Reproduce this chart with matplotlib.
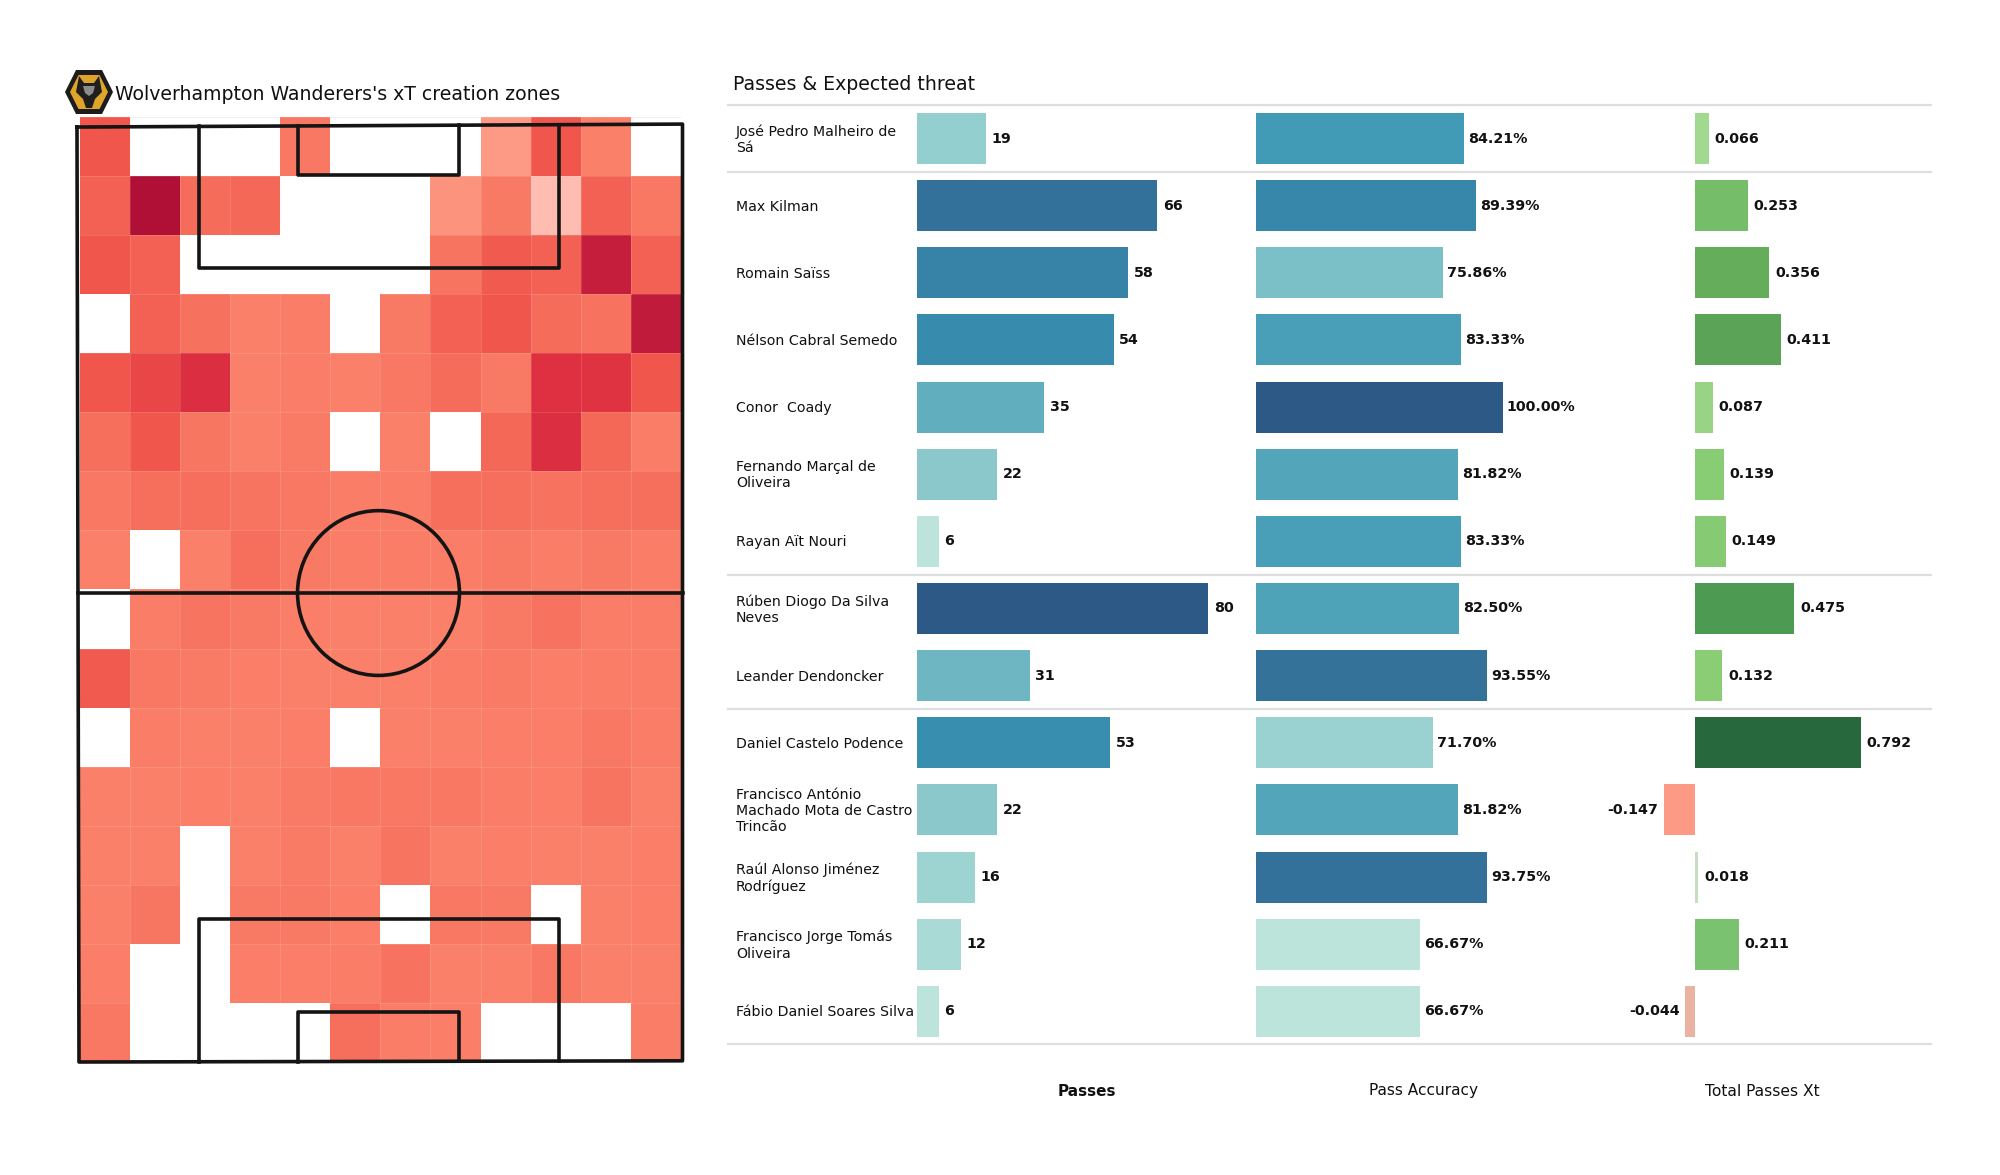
import numpy as np
import matplotlib
matplotlib.use("Agg")
import matplotlib.pyplot as plt
from matplotlib.colors import LinearSegmentedColormap, Normalize, TwoSlopeNorm
from matplotlib.patches import Polygon, Ellipse

# === Data ===
nan = np.nan
HEAT = [
    [50, nan, nan, nan, 33, nan, nan, nan, 17, 50, 28, nan],
    [45, 100, 40, 42, nan, nan, nan, 20, 32, 0, 45, 33],
    [50, 45, nan, nan, nan, nan, nan, 35, 48, 45, 88, 45],
    [nan, 45, 37, 28, 30, nan, 32, 45, 50, 40, 36, 90],
    [50, 58, 72, 28, 30, 28, 33, 40, 32, 70, 68, 50],
    [38, 50, 34, 28, 31, nan, 28, nan, 42, 72, 42, 30],
    [33, 38, 38, 35, 33, 30, 30, 38, 38, 36, 38, 38],
    [28, nan, 28, 38, 32, 30, 30, 30, 32, 30, 32, 30],
    [nan, 30, 35, 32, 29, 28, 28, 28, 32, 36, 30, 30],
    [48, 33, 31, 29, 28, 28, 28, 30, 31, 29, 30, 30],
    [nan, 30, 28, 28, 29, nan, 28, 28, 29, 29, 33, 30],
    [28, 28, 29, 28, 31, 33, 33, 33, 30, 29, 35, 28],
    [28, 28, nan, 28, 31, 28, 35, 28, 29, 28, 28, 29],
    [28, 34, nan, 32, 32, 29, nan, 33, 32, nan, 28, 29],
    [29, nan, nan, 29, 29, 30, 36, 28, 28, 33, 28, 28],
    [33, nan, nan, nan, nan, 38, 30, 29, nan, nan, nan, 30],
]

players = [
    "José Pedro Malheiro de\nSá", "Max Kilman", "Romain Saïss",
    "Nélson Cabral Semedo", "Conor  Coady", "Fernando Marçal de\nOliveira",
    "Rayan Aït Nouri", "Rúben Diogo Da Silva\nNeves", "Leander Dendoncker",
    "Daniel Castelo Podence", "Francisco António\nMachado Mota de Castro\nTrincão",
    "Raúl Alonso Jiménez\nRodríguez", "Francisco Jorge Tomás\nOliveira",
    "Fábio Daniel Soares Silva",
]
passes = [19, 66, 58, 54, 35, 22, 6, 80, 31, 53, 22, 16, 12, 6]
accuracy = [84.21, 89.39, 75.86, 83.33, 100.0, 81.82, 83.33, 82.5, 93.55, 71.7,
            81.82, 93.75, 66.67, 66.67]
xt = [0.066, 0.253, 0.356, 0.411, 0.087, 0.139, 0.149, 0.475, 0.132, 0.792,
      -0.147, 0.018, 0.211, -0.044]
separators = [-0.5, 0.5, 6.5, 8.5, 13.48]

# === Colours ===
heat_cmap = LinearSegmentedColormap.from_list("heat", [
    (0.0, "#ffbcb0"), (0.17, "#fd9a85"), (0.28, "#fa8069"), (0.40, "#f56c5a"),
    (0.50, "#f0564c"), (0.70, "#de3040"), (0.88, "#c41e3c"), (1.0, "#b01036")])
blue_cmap = LinearSegmentedColormap.from_list("blues", [
    (0.0, "#bce4da"), (0.17, "#94cfcf"), (0.39, "#62afbe"), (0.526, "#429bb6"),
    (0.65, "#378cae"), (0.8, "#35739b"), (1.0, "#2c5985")])
green_cmap = LinearSegmentedColormap.from_list("xt", [
    (0.0, "#fd9a85"), (0.43, "#e8b8a8"), (0.5, "#d5e5d0"), (0.511, "#c5dcc0"),
    (0.54, "#a3d992"), (0.583, "#8acd74"), (0.633, "#7bc270"), (0.66, "#75bd69"),
    (0.725, "#65ac5b"), (0.8, "#4d9a52"), (1.0, "#27693d")])

W, H = 2000, 1175
fig = plt.figure(figsize=(20, 11.75), dpi=100, facecolor="white")


def axes_px(x0, y0, x1, y1):
    a = fig.add_axes([x0 / W, 1 - y1 / H, (x1 - x0) / W, (y1 - y0) / H])
    a.axis("off")
    return a


# === Pitch ===
ax_p = axes_px(79.5, 117, 681, 1062)
ax_p.set_xlim(0, 12)
ax_p.set_ylim(16, 0)
ax_p.pcolormesh(np.arange(13), np.arange(17), np.array(HEAT), cmap=heat_cmap, vmin=0, vmax=100)
# faint seams between the cells
masked = np.ma.masked_invalid(np.array(HEAT))
for r in range(16):
    for c in range(12):
        if masked[r, c] is not np.ma.masked:
            ax_p.plot([c, c + 1, c + 1], [r, r, r + 1], color="white", lw=0.5, alpha=0.18)
ax_p.axhline(0, color="#eeeeee", lw=1.2, zorder=0)

LINE = dict(color="#141414", lw=2.6, clip_on=False, zorder=5)
ax_p.plot([-0.05, 12.03, 12.03, -0.01, -0.05], [0.17, 0.12, 15.98, 16.0, 0.17], **LINE)
ax_p.plot([-0.03, 12.03], [8.06, 8.06], **LINE)
ax_p.plot([2.39, 2.39, 9.57, 9.57], [0.16, 2.55, 2.55, 0.13], **LINE)
ax_p.plot([4.35, 4.35, 7.58, 7.58], [0.15, 0.99, 0.99, 0.13], **LINE)
ax_p.plot([2.39, 2.39, 9.57, 9.57], [16, 13.58, 13.58, 15.98], **LINE)
ax_p.plot([4.35, 4.35, 7.58, 7.58], [16, 15.16, 15.16, 15.98], **LINE)
ax_p.add_patch(Ellipse((5.965, 8.06), 3.23, 2.79, fill=False, ec="#141414", lw=2.6, zorder=5))

fig.text(115 / W, 1 - 94 / H, "Wolverhampton Wanderers's xT creation zones",
         fontsize=13.6, color="#111111", ha="left", va="center")
fig.text(733 / W, 1 - 84 / H, "Passes & Expected threat",
         fontsize=13.6, color="#111111", ha="left", va="center")

# === Badge ===
ax_b = axes_px(64, 68, 114, 116)
ax_b.set_xlim(0, 50)
ax_b.set_ylim(48, 0)
ax_b.add_patch(Polygon([[12, 2], [38, 2], [49, 24], [38, 46], [12, 46], [1, 24]], fc="#1c1c1c"))
ax_b.add_patch(Polygon([[14.5, 7], [35.5, 7], [44, 24], [35.5, 41], [14.5, 41], [6, 24]], fc="#dfa42a"))
ax_b.add_patch(Polygon([[15, 8], [20, 15], [30, 15], [35, 8], [38, 24], [31, 31], [28, 40], [22, 40],
                        [19, 31], [12, 24]], fc="#1f1f1f"))
ax_b.add_patch(Polygon([[19, 18], [31, 18], [29, 25], [25, 28], [21, 25]], fc="#8d8d8d"))

# === Table ===
rows = np.arange(len(players))
ROW_TOP, ROW_BOTTOM = 105, 1043.5
YLIM = (13.48, -0.5)
BAR_H = 0.76
LABEL = dict(fontsize=10.3, fontweight="bold", color="#111111")

PX_PASS, PX_ACC, PX_XT = 3.64, 2.465, 210

ax_1 = axes_px(917, ROW_TOP, 1250, ROW_BOTTOM)
ax_1.set_xlim(0, 333 / PX_PASS)
ax_1.set_ylim(*YLIM)
norm_1 = Normalize(min(passes), max(passes))
bars = ax_1.barh(rows, passes, height=BAR_H, color=blue_cmap(norm_1(passes)))
ax_1.bar_label(bars, labels=[str(v) for v in passes], padding=4, **LABEL)

ax_2 = axes_px(1256, ROW_TOP, 1600, ROW_BOTTOM)
ax_2.set_xlim(0, 344 / PX_ACC)
ax_2.set_ylim(*YLIM)
norm_2 = Normalize(min(accuracy), max(accuracy))
bars = ax_2.barh(rows, accuracy, height=BAR_H, color=blue_cmap(norm_2(accuracy)))
ax_2.bar_label(bars, labels=[f"{v:.2f}%" for v in accuracy], padding=3, **LABEL)

ax_3 = axes_px(1594.7, ROW_TOP, 1931, ROW_BOTTOM)
ax_3.set_xlim(-100 / PX_XT, 236.3 / PX_XT)
ax_3.set_ylim(*YLIM)
norm_3 = TwoSlopeNorm(vcenter=0, vmin=-0.147, vmax=0.792)
bars = ax_3.barh(rows, xt, height=BAR_H, color=green_cmap(norm_3(xt)))
ax_3.bar_label(bars, labels=[f"{v:.3f}" for v in xt], padding=4, **LABEL)

# names and rules go on top of the bars
ax_t = axes_px(728, ROW_TOP, 1931, ROW_BOTTOM)
ax_t.set_xlim(728, 1931)
ax_t.set_ylim(*YLIM)
for s in separators:
    ax_t.axhline(s, color="#dedede", lw=1.6, clip_on=False)
for r, name in zip(rows, players):
    ax_t.text(736, r + 0.015, name, fontsize=10.2, color="#111111", ha="left", va="center")

fig.text(1087 / W, 1 - 1091 / H, "Passes", fontsize=11, fontweight="bold", ha="center", va="center", color="#111111")
fig.text(1424 / W, 1 - 1091 / H, "Pass Accuracy", fontsize=11.1, ha="center", va="center", color="#111111")
fig.text(1762 / W, 1 - 1091 / H, "Total Passes Xt", fontsize=11.2, ha="center", va="center", color="#111111")

fig.savefig("out.png", dpi=100)
